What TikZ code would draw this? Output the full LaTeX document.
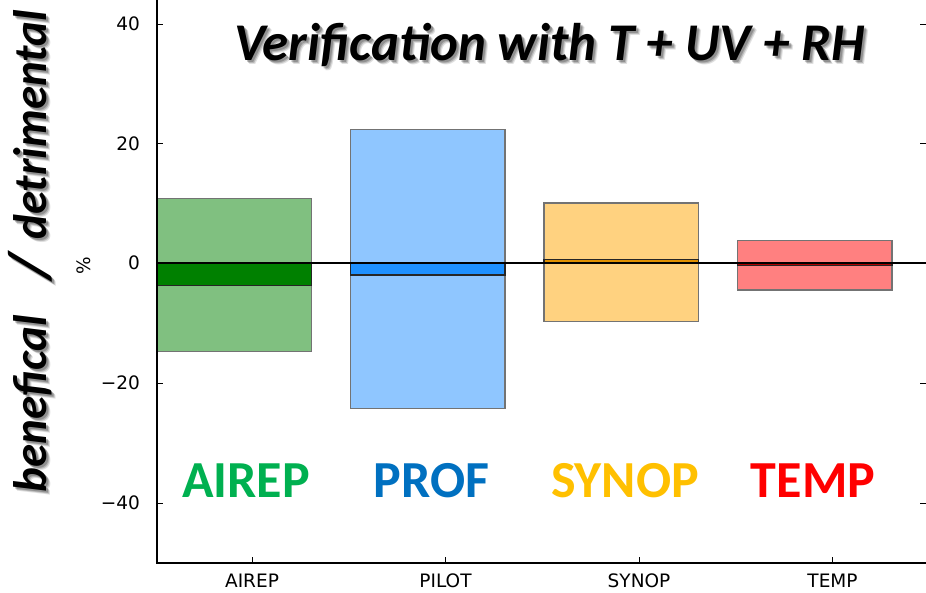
\documentclass[tikz,border=0pt]{standalone}
\usepackage{fontspec}
\setmainfont{DejaVu Sans}
\newfontfamily\calib{Carlito}
\definecolor{lgreen}{HTML}{80C080}
\definecolor{dgreen}{HTML}{008000}
\definecolor{lblue}{HTML}{8FC6FF}
\definecolor{dblue}{HTML}{1E90FF}
\definecolor{lorange}{HTML}{FFD280}
\definecolor{dorange}{HTML}{E09000}
\definecolor{lred}{HTML}{FF8080}
\definecolor{dred}{HTML}{B00000}
\definecolor{cairep}{HTML}{00B050}
\definecolor{cprof}{HTML}{0070C0}
\definecolor{csynop}{HTML}{FFC000}
\definecolor{ctemp}{HTML}{FF0000}
\tikzset{
  rangebox/.style={draw=black!55, line width=1.2pt},
  meanbox/.style={draw=black!85, line width=1.2pt},
  spine/.style={draw=black, line width=1.3pt},
  tickmark/.style={draw=black, line width=0.9pt},
  ticklabel/.style={font=\fontsize{18.5}{20}\selectfont, inner sep=0pt},
  headline/.style={font=\calib\bfseries\itshape\fontsize{53}{56}\selectfont, inner sep=0pt},
  sidetext/.style={font=\calib\bfseries\itshape\fontsize{47}{50}\selectfont, inner sep=0pt, rotate=90},
  slashtext/.style={font=\calib\bfseries\itshape\fontsize{60}{62}\selectfont, inner sep=0pt, rotate=90},
  catlabel/.style={font=\calib\bfseries\fontsize{52}{56}\selectfont, inner sep=0pt, anchor=base},
}
\begin{document}
\begin{tikzpicture}[x=1pt,y=-1pt]
\useasboundingbox (0,0) rectangle (926,593);
\clip (0,0) rectangle (926,593);

% spread of each observation type (light) and its mean impact (dark)
\filldraw[rangebox, fill=lgreen]  (157,198.8) rectangle (311.5,351.2);
\filldraw[meanbox,  fill=dgreen]  (157,263)   rectangle (311.5,285.8);
\filldraw[rangebox, fill=lblue]   (350.5,129.8) rectangle (505,408.2);
\filldraw[meanbox,  fill=dblue]   (350.5,263)   rectangle (505,275);
\filldraw[rangebox, fill=lorange] (544,203)   rectangle (698.5,321.8);
\filldraw[meanbox,  fill=dorange] (544,259.6) rectangle (698.5,263);
\filldraw[rangebox, fill=lred]    (737.5,240.2) rectangle (892,290);
\filldraw[meanbox,  fill=dred]    (737.5,263)   rectangle (892,265.5);

% zero line
\coordinate (z0) at (157,263);
\coordinate (z1) at (926,263);
\draw[black, line width=1.5pt] (z0) -- (z1);

% axes
\coordinate (top) at (157,0);
\coordinate (origin) at (157,563);
\coordinate (right) at (930,563);
\draw[spine] (top) -- (origin) -- (right);

% y ticks and labels
\foreach \v/\yy/\lab in {40/24/40, 20/143.5/20, 0/263/0, -20/383/−20, -40/503/−40}{
  \draw[tickmark] (157,\yy) -- (163,\yy);
  \draw[tickmark] (920,\yy) -- (926,\yy);
  \node[ticklabel, anchor=east] (yl\v) at (140,\yy) {\lab};
}
\node[font=\fontsize{18.5}{20}\selectfont, rotate=90, inner sep=0pt] (ylab) at (84,266) {\%};

% x ticks and labels
\foreach \xx/\lab in {252/AIREP, 445.5/PILOT, 639/SYNOP, 832.5/TEMP}{
  \draw[tickmark] (\xx,563) -- (\xx,557);
  \node[ticklabel, anchor=base] (xl\lab) at (\xx,587) {\lab};
}

% category names in the plot area
\node[catlabel, text=cairep] (nairep) at (246,497) {AIREP};
\node[catlabel, text=cprof]  (nprof)  at (431.5,497) {PROF};
\node[catlabel, text=csynop] (nsynop) at (625,497) {SYNOP};
\node[catlabel, text=ctemp]  (ntemp)  at (813,497) {TEMP};

% headline with soft drop shadow
\foreach \d/\o in {4/0.12, 3/0.18, 2/0.22}{
  \node[headline, anchor=base, text=black, opacity=\o] (hs\d) at (549.5+\d,61+\d) {Verification with T + UV + RH};
}
\node[headline, anchor=base] (title) at (549.5,61) {Verification with T + UV + RH};

% side annotation with soft drop shadow
\foreach \d/\o in {4/0.12, 3/0.18, 2/0.22}{
  \node[sidetext, anchor=base, opacity=\o] (sb\d) at (46+\d,404+\d) {benefical};
  \node[slashtext, anchor=base, opacity=\o] (ss\d) at (49+\d,266+\d) {/};
  \node[sidetext, anchor=base, opacity=\o] (sd\d) at (46+\d,125+\d) {detrimental};
}
\node[sidetext, anchor=base] (sben) at (46,404) {benefical};
\node[slashtext, anchor=base] (sslash) at (49,266) {/};
\node[sidetext, anchor=base] (sdet) at (46,125) {detrimental};
\end{tikzpicture}
\end{document}
